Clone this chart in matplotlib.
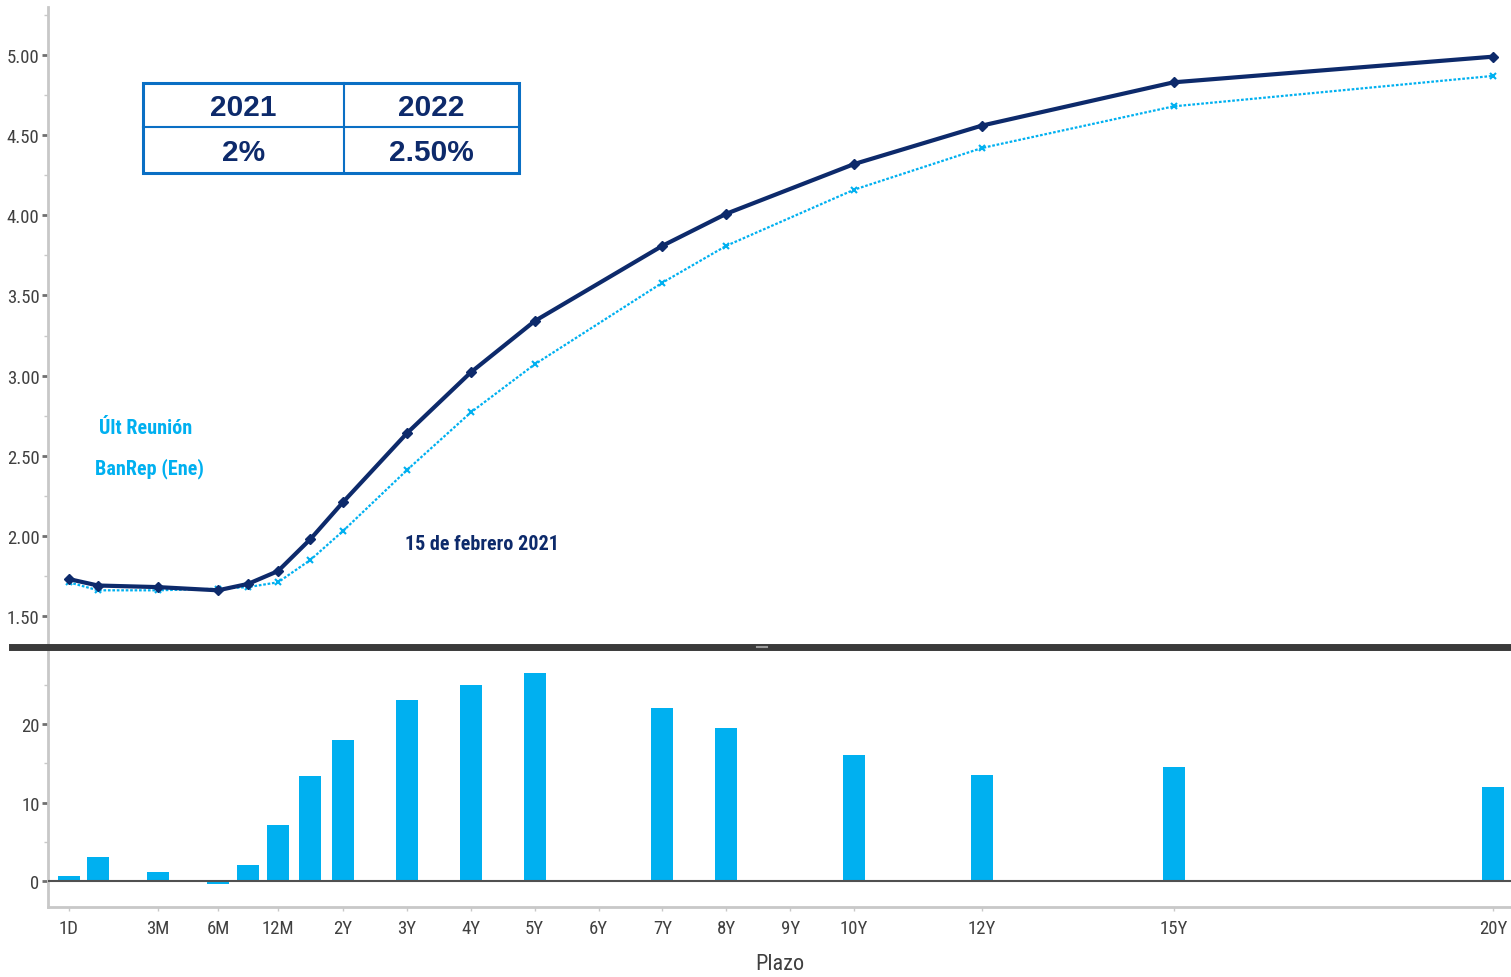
import numpy as np
import matplotlib
matplotlib.use("Agg")
import matplotlib.pyplot as plt
from matplotlib.lines import Line2D
from matplotlib.patches import Rectangle
from matplotlib import font_manager

# ---------------- data ----------------
plazo_labels = ["1D", "1M", "3M", "6M", "9M", "12M", "18M", "2Y", "3Y", "4Y", "5Y",
                "7Y", "8Y", "10Y", "12Y", "15Y", "20Y"]
plazo_years = [1/360, 1/12, 0.25, 0.5, 0.75, 1.0, 1.5, 2, 3, 4, 5, 7, 8, 10, 12, 15, 20]
curva_feb15 = [1.73, 1.69, 1.68, 1.66, 1.70, 1.78, 1.98, 2.21, 2.64, 3.02, 3.34,
               3.81, 4.01, 4.32, 4.56, 4.83, 4.99]
curva_ult_reunion = [1.71, 1.66, 1.66, 1.67, 1.68, 1.71, 1.85, 2.03, 2.41, 2.77, 3.07,
                     3.58, 3.81, 4.16, 4.42, 4.68, 4.87]
cambio_pb = [0.7, 3.0, 1.1, -0.4, 2.0, 7.1, 13.4, 18.0, 23.1, 25.0, 26.5,
             22.0, 19.5, 16.1, 13.5, 14.5, 12.0]

xtick_years = [1/360, 0.25, 0.5, 1, 2, 3, 4, 5, 6, 7, 8, 9, 10, 12, 15, 20]
xtick_labels = ["1D", "3M", "6M", "12M", "2Y", "3Y", "4Y", "5Y", "6Y", "7Y", "8Y",
                "9Y", "10Y", "12Y", "15Y", "20Y"]
top_yticks = [1.50, 2.00, 2.50, 3.00, 3.50, 4.00, 4.50, 5.00]
bot_yticks = [0, 10, 20]
tabla_header = ["2021", "2022"]
tabla_values = ["2%", "2.50%"]

# ---------------- style ----------------
NAVY = "#0d2a6b"
LIGHT = "#00b0f0"
GRAY_AX = "#c8c8c8"
TXT = "#404040"

_avail = {f.name for f in font_manager.fontManager.ttflist}
_cands = ["Liberation Sans Narrow", "Roboto Condensed", "Open Sans Condensed",
          "Noto Sans Condensed", "Roboto", "Liberation Sans"]
_narrow = next((c for c in _cands if c in _avail), "DejaVu Sans")
NARROW = [_narrow, "DejaVu Sans"]
IS_CONDENSED = ("Narrow" in _narrow) or ("Condensed" in _narrow)
FS_TICK = 13.5 if IS_CONDENSED else 12
FS_NOTE = 14.5 if IS_CONDENSED else 13
FS_XLABEL = 16 if IS_CONDENSED else 14

# piecewise-linear maturity axis (pixel-like units)
_nodes_y = np.array([-1.0, 0.0, 0.25, 0.5, 1.0, 2.0, 20.0, 40.0])
_nodes_p = np.array([68 - 360, 68, 158, 218, 278, 343, 1493, 1493 + 20 * 63.9])

def fwd(x):
    return np.interp(np.asarray(x, dtype=float), _nodes_y, _nodes_p)

def inv(p):
    return np.interp(np.asarray(p, dtype=float), _nodes_p, _nodes_y)

W, H = 1511, 978
fig = plt.figure(figsize=(W / 100, H / 100), dpi=100)

def fx(px):
    return px / W

def fy(py):
    return 1 - py / H

ax1 = fig.add_axes([fx(48), fy(645), fx(1511 - 48), (645 - 8) / H])
ax2 = fig.add_axes([fx(48), fy(908), fx(1511 - 48), (908 - 652) / H], sharex=ax1)

for ax in (ax1, ax2):
    ax.set_xscale("function", functions=(fwd, inv))
    ax.set_xlim(inv(48), inv(1511))
    for s in ("top", "right"):
        ax.spines[s].set_visible(False)
    ax.spines["left"].set_color(GRAY_AX)
    ax.spines["left"].set_linewidth(2)
    ax.tick_params(axis="y", which="major", direction="out", length=4, width=2,
                   color="#707070", labelcolor=TXT, pad=2)
    ax.tick_params(axis="y", which="minor", direction="out", length=3, width=1,
                   color=GRAY_AX)

# ---- top panel: curves ----
ax1.spines["bottom"].set_visible(False)
ax1.set_ylim(1.325, 5.30)
ax1.set_yticks(top_yticks)
ax1.set_yticklabels([f"{v:.2f}" for v in top_yticks], fontfamily=NARROW, fontsize=FS_TICK)
ax1.set_yticks(np.arange(1.75, 5.3, 0.5), minor=True)
ax1.tick_params(axis="x", which="both", bottom=False, labelbottom=False)

ax1.plot(plazo_years, curva_ult_reunion, color=LIGHT, lw=1.6, ls=(0, (1.2, 0.8)),
         marker="x", ms=5, mew=1.5, zorder=3)
ax1.plot(plazo_years, curva_feb15, color=NAVY, lw=3, marker="D", ms=5.5, zorder=4)

ax1.text(fx(146), fy(429), "Últ Reunión", transform=fig.transFigure, ha="center",
         va="center", color=LIGHT, fontsize=FS_NOTE, fontweight="bold", fontfamily=NARROW)
ax1.text(fx(149), fy(469), "BanRep (Ene)", transform=fig.transFigure, ha="center",
         va="center", color=LIGHT, fontsize=FS_NOTE, fontweight="bold", fontfamily=NARROW)
ax1.text(fx(482), fy(544), "15 de febrero 2021", transform=fig.transFigure, ha="center",
         va="center", color=NAVY, fontsize=FS_NOTE, fontweight="bold", fontfamily=NARROW)

# table box
BLUE = "#0a6fc4"
x0, x1, xm = 143, 519, 344
y0, y1, ym = 84, 174, 128
fig.add_artist(Rectangle((fx(x0), fy(y1)), fx(x1 - x0), (y1 - y0) / H,
                         transform=fig.transFigure, fill=False, ec=BLUE, lw=2.2))
fig.add_artist(Line2D([fx(x0), fx(x1)], [fy(ym), fy(ym)], transform=fig.transFigure,
                      color=BLUE, lw=1.5))
fig.add_artist(Line2D([fx(xm), fx(xm)], [fy(y0), fy(y1)], transform=fig.transFigure,
                      color=BLUE, lw=1.5))
cx = [(x0 + xm) / 2, (xm + x1) / 2]
for c, h, v in zip(cx, tabla_header, tabla_values):
    fig.text(fx(c), fy(108), h, ha="center", va="center", color=NAVY,
             fontsize=21.5, fontweight="bold", fontfamily="Liberation Sans")
    fig.text(fx(c), fy(153), v, ha="center", va="center", color=NAVY,
             fontsize=21.5, fontweight="bold", fontfamily="Liberation Sans")

# ---- bottom panel: bars ----
half = 11
centers = fwd(plazo_years)
lefts = inv(centers - half)
widths = inv(centers + half) - lefts
ax2.bar(lefts, cambio_pb, width=widths, align="edge", color=LIGHT, zorder=2)
ax2.axhline(0, color="#505050", lw=1.5, zorder=3)
ax2.set_ylim(-3.31, 29.3)
ax2.set_yticks(bot_yticks)
ax2.set_yticklabels([str(v) for v in bot_yticks], fontfamily=NARROW, fontsize=FS_TICK)
ax2.set_yticks([5, 15, 25], minor=True)
ax2.spines["bottom"].set_color(GRAY_AX)
ax2.spines["bottom"].set_linewidth(2)
ax2.set_xticks(xtick_years)
ax2.set_xticklabels(xtick_labels, fontfamily=NARROW, fontsize=FS_TICK, color=TXT)
ax2.set_xticks([], minor=True)
ax2.tick_params(axis="x", which="major", direction="out", length=3, width=1,
                color=GRAY_AX, pad=6)
ax2.set_xlabel("Plazo", fontfamily=NARROW, fontsize=FS_XLABEL, color=TXT, labelpad=11)

# separator bar between panels
fig.add_artist(Line2D([fx(12), fx(1511)], [fy(648), fy(648)], transform=fig.transFigure,
                      color="#3a3a3a", lw=5))
fig.add_artist(Line2D([fx(757), fx(767)], [fy(648), fy(648)], transform=fig.transFigure,
                      color="#9a9a9a", lw=1.5))

fig.savefig("out.png", dpi=100)
